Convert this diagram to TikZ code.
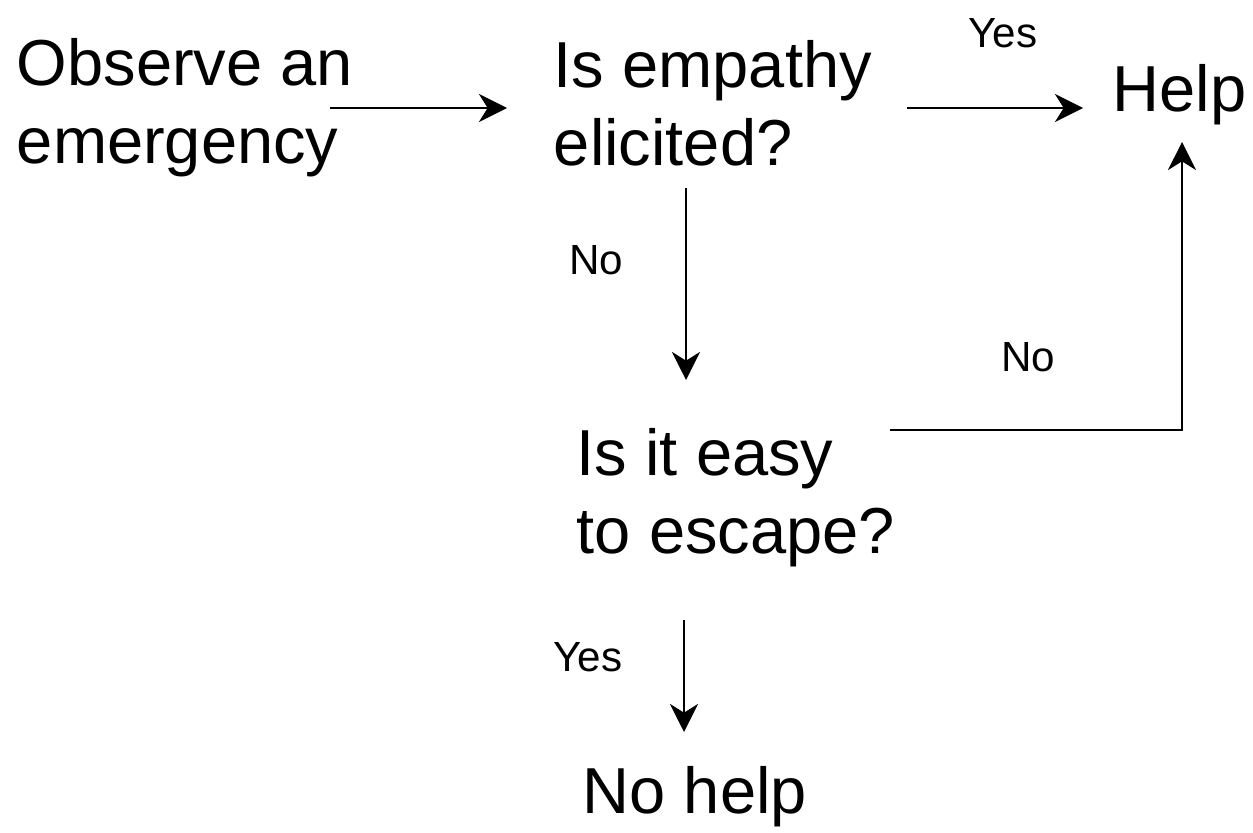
\documentclass[tikz,border=0pt]{standalone}
\usepackage{fontspec}
\setmainfont{Liberation Sans}
\usetikzlibrary{arrows.meta}

\begin{document}
\begin{tikzpicture}[x=0.02cm, y=-0.02cm, line width=1pt,
  bigtext/.style={font=\fontsize{37}{44}\selectfont, align=left, inner sep=0pt, anchor=north west},
  answer/.style={font=\fontsize{24}{28}\selectfont, inner sep=0pt},
  arr/.style={-{Stealth[length=16pt, width=16pt, inset=5pt]}}]

  % Page frame (pixel units)
  \useasboundingbox (0,0) rectangle (1253,832);

  % Steps of the decision
  \node[bigtext] (observe) at (16,38) {Observe an\\emergency};
  \node[bigtext] (empathy) at (553,40) {Is empathy\\elicited?};
  \node[bigtext] (help) at (1112,64) {Help};
  \node[bigtext] (escape) at (576,428) {Is it easy\\to escape?};
  \node[bigtext] (nohelp) at (582,766) {No help};

  % Ends of the connectors
  \coordinate (obsOut) at (330,108);
  \coordinate (empIn) at (507,108);
  \coordinate (empYes) at (907,108);
  \coordinate (helpIn) at (1083,108);
  \coordinate (empNo) at (686,188);
  \coordinate (escIn) at (686,380);
  \coordinate (escNo) at (890,430);
  \coordinate (corner) at (1182,430);
  \coordinate (helpBelow) at (1182,142);
  \coordinate (escYes) at (684,620);
  \coordinate (noIn) at (684,732);

  % Connectors
  \draw[arr] (obsOut) -- (empIn);
  \draw[arr] (empYes) -- (helpIn);
  \draw[arr] (empNo) -- (escIn);
  \draw[arr] (escNo) -- (corner) -- (helpBelow);
  \draw[arr] (escYes) -- (noIn);

  % Answers
  \node[answer] (yesTop) at (1003,33) {Yes};
  \node[answer] (noLeft) at (596,260) {No};
  \node[answer] (noRight) at (1028,357) {No};
  \node[answer] (yesLow) at (588,657) {Yes};

\end{tikzpicture}
\end{document}
